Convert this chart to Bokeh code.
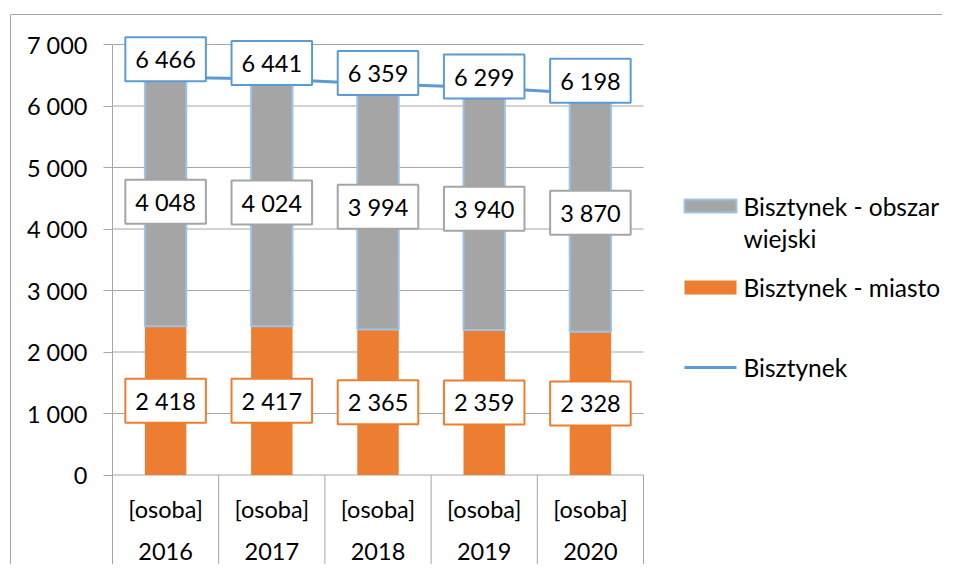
from bokeh.plotting import figure
from bokeh.models import ColumnDataSource, FixedTicker, Range1d, LinearAxis
from bokeh.core.properties import value
from bokeh.embed import file_html
from bokeh.resources import INLINE

# ---- data ----
years = ["2016", "2017", "2018", "2019", "2020"]
unit_label = "[osoba]"
city = [2418, 2417, 2365, 2359, 2328]          # Bisztynek - miasto
rural = [4048, 4024, 3994, 3940, 3870]         # Bisztynek - obszar wiejski
total = [6466, 6441, 6359, 6299, 6198]         # Bisztynek
y_ticks = [0, 1000, 2000, 3000, 4000, 5000, 6000, 7000]
y_tick_labels = ["0", "1 000", "2 000", "3 000", "4 000", "5 000", "6 000", "7 000"]
series_names = ["Bisztynek - obszar\nwiejski", "Bisztynek - miasto", "Bisztynek"]

# ---- style / layout ----
FONT = value("Lato")
FS = "23.5px"
ORANGE = "#ED7D31"
GRAY = "#A5A5A5"
BLUE = "#5B9BD5"
LIGHTBLUE = "#9DC3E6"
GRID = "#A6A6A6"
total_label_lift_px = [-18, -16, -11, -11, -13]   # label placement above the line points

W, H = 942, 564
OX, OY = 0, 0            # canvas origin in the picture
AXIS_PX = 112            # picture x of category start
PX_PER_CAT = 106.2
ZERO_PX = 474.5          # picture y of value 0
PX_PER_UNIT = 0.0615


def px_y(page_y):
    return (ZERO_PX - page_y) / PX_PER_UNIT


def px_x(page_x):
    return (page_x - AXIS_PX) / PX_PER_CAT


fmt = lambda v: f"{v:,}".replace(",", " ")

n = len(years)
xc = [i + 0.5 for i in range(n)]
src = ColumnDataSource(dict(
    x=xc, city=city, rural=rural, total=total,
    mid_city=[c / 2 for c in city],
    mid_rural=[c + r / 2 for c, r in zip(city, rural)],
    city_lbl=[fmt(v) for v in city],
    rural_lbl=[fmt(v) for v in rural],
    total_lbl=[fmt(v) for v in total],
    lift=total_label_lift_px,
))

y_top = px_y(OY)
y_bottom = px_y(OY + H)
x_start = px_x(OX)
x_end = px_x(OX + W)

p = figure(width=W, height=H, output_backend="svg", toolbar_location=None,
           x_range=Range1d(x_start, x_end), y_range=Range1d(y_bottom, y_top),
           x_axis_location=None, y_axis_location=None,
           min_border_left=0, min_border_right=0, min_border_top=0, min_border_bottom=0)
p.outline_line_color = None
p.grid.visible = False

ax = LinearAxis(fixed_location=0)
ax.ticker = FixedTicker(ticks=y_ticks)
ax.major_label_overrides = {t: l for t, l in zip(y_ticks, y_tick_labels)}
ax.axis_line_color = None
ax.major_tick_in = 0
ax.major_tick_out = 9
ax.major_tick_line_color = GRID
ax.minor_tick_line_color = None
ax.major_label_standoff = 16
ax.major_label_text_font = "Lato"
ax.major_label_text_font_size = FS
ax.major_label_text_color = "black"
p.add_layout(ax, "left")

# outer chart border (top and left edges)
p.segment(x0=[px_x(10), px_x(10)], y0=[px_y(14), px_y(14)],
          x1=[x_end, px_x(10)], y1=[px_y(14), y_bottom], line_color=GRID, line_width=1)

# gridlines
p.segment(x0=0, x1=n, y0=y_ticks, y1=y_ticks, line_color=GRID, line_width=1)
# y axis line
p.segment(x0=[0], x1=[0], y0=[y_ticks[-1]], y1=[y_bottom], line_color=GRID, line_width=1)
# category separators
p.segment(x0=list(range(1, n + 1)), x1=list(range(1, n + 1)),
          y0=[0] * n, y1=[y_bottom] * n, line_color=GRID, line_width=1)

# category labels
p.text(x=xc, y=[px_y(508)] * n, text=[unit_label] * n, text_font=FONT, text_font_size=FS,
       text_align="center", text_baseline="middle", text_color="black")
p.text(x=xc, y=[px_y(551)] * n, text=years, text_font=FONT, text_font_size=FS,
       text_align="center", text_baseline="middle", text_color="black")

BW = 0.39
p.vbar(x="x", bottom=0, top="city", width=BW, source=src, fill_color=ORANGE, line_color=None)
p.vbar(x="x", bottom="city", top="total", width=BW, source=src, fill_color=GRAY,
       line_color=LIGHTBLUE, line_width=2)
p.line(x="x", y="total", source=src, line_color=BLUE, line_width=3)

pad = dict(left=10, right=10, top=8, bottom=8)
common = dict(source=src, text_font=FONT, text_font_size=FS, text_align="center",
              text_baseline="middle", text_color="black", background_fill_color="white",
              border_line_width=2, padding=pad)
p.text(x="x", y="mid_city", text="city_lbl", border_line_color=ORANGE, **common)
p.text(x="x", y="mid_rural", text="rural_lbl", border_line_color=GRAY, **common)
p.text(x="x", y="total", text="total_lbl", border_line_color=BLUE, y_offset="lift", **common)

# legend
lx0, lx1, tx = px_x(684), px_x(736), px_x(743)
p.quad(left=[lx0], right=[lx1], top=[px_y(199)], bottom=[px_y(212)],
       fill_color=GRAY, line_color=LIGHTBLUE, line_width=2)
p.quad(left=[lx0], right=[lx1], top=[px_y(280)], bottom=[px_y(294)],
       fill_color=ORANGE, line_color=None)
p.segment(x0=[lx0], x1=[lx1], y0=[px_y(367)], y1=[px_y(367)], line_color=BLUE, line_width=3)
name_lines = series_names[0].split("\n")
LFS = "24.5px"
p.text(x=[tx] * 4, y=[px_y(206), px_y(238), px_y(287), px_y(367)],
       text=[name_lines[0], name_lines[1], series_names[1], series_names[2]],
       text_font=FONT, text_font_size=LFS, text_align="left", text_baseline="middle",
       text_color="black")

open("out.html", "w").write(file_html(p, INLINE))
